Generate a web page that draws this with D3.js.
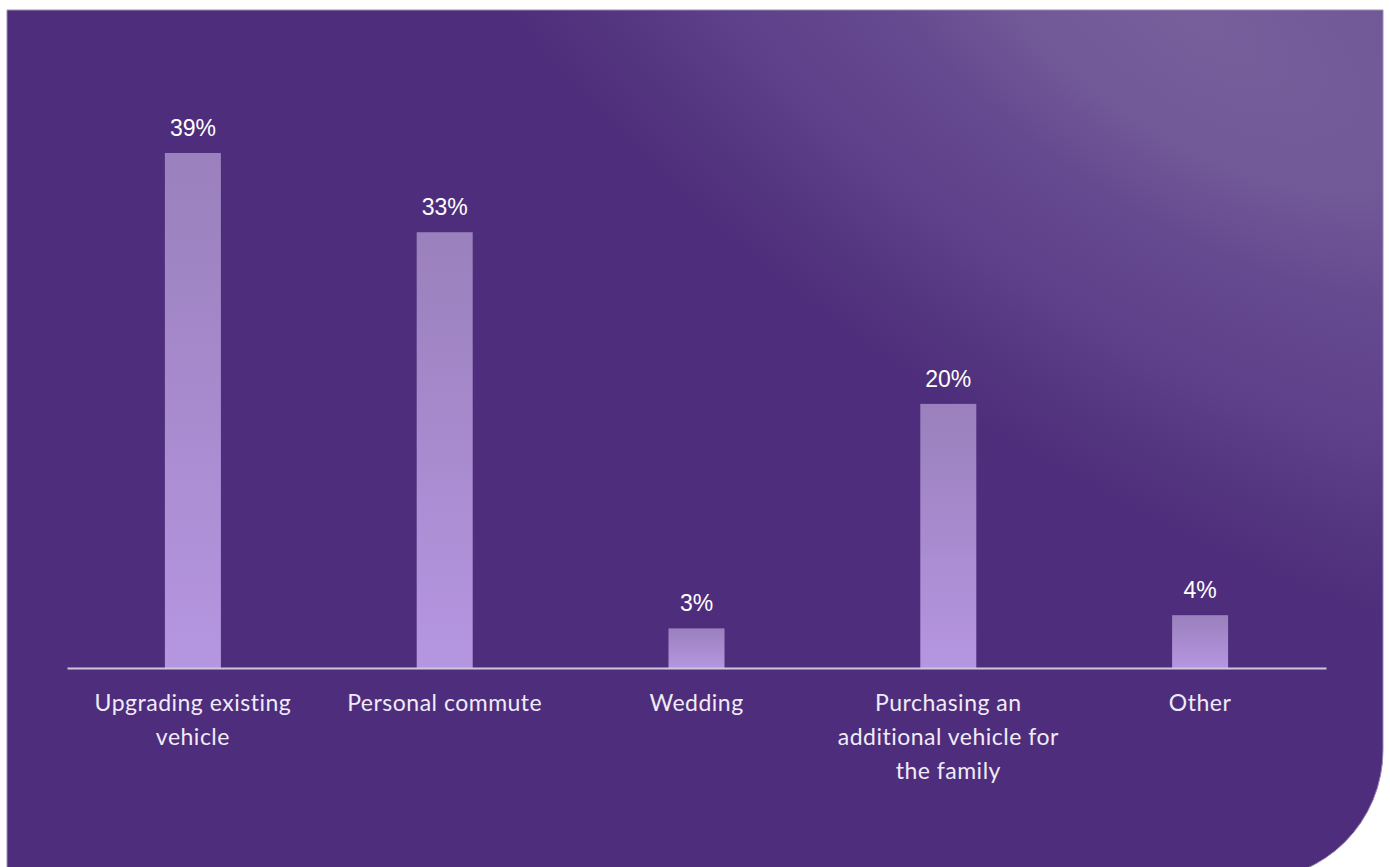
<!DOCTYPE html>
<html>
<head>
<meta charset="utf-8">
<script src="https://cdn.jsdelivr.net/npm/d3@7/dist/d3.min.js"></script>
<style>
  html, body { margin: 0; padding: 0; background: #ffffff; }
  svg { display: block; }
</style>
</head>
<body>
<svg id="chart" width="1390" height="867"></svg>
<script>
// Reasons for vehicle purchase (share of respondents, %)
const categories = [
  ["Upgrading existing", "vehicle"],
  ["Personal commute"],
  ["Wedding"],
  ["Purchasing an", "additional vehicle for", "the family"],
  ["Other"]
];
const values = [39, 33, 3, 20, 4];
const valueLabels = ["39%", "33%", "3%", "20%", "4%"];

const W = 1390, H = 867;
const svg = d3.select("#chart");
const defs = svg.append("defs");

// Panel background: elongated soft glow along the upper-right diagonal
const gcx = 1200, gcy = 20;
const glow = defs.append("radialGradient")
  .attr("id", "glow").attr("gradientUnits", "userSpaceOnUse")
  .attr("cx", gcx).attr("cy", gcy).attr("r", 1000)
  .attr("gradientTransform",
    `translate(${gcx},${gcy}) rotate(33) scale(1,0.46) translate(${-gcx},${-gcy})`);
[
  [0.00, "#775f9c"],
  [0.26, "#715897"],
  [0.43, "#664a90"],
  [0.70, "#5c3f88"],
  [0.87, "#53347f"],
  [1.00, "#4e2e7c"]
].forEach(([o, c]) => glow.append("stop").attr("offset", o).attr("stop-color", c));

const barGrad = defs.append("linearGradient")
  .attr("id", "barGrad").attr("x1", 0).attr("y1", 0).attr("x2", 0).attr("y2", 1);
barGrad.append("stop").attr("offset", "0%").attr("stop-color", "#9a80bc");
barGrad.append("stop").attr("offset", "100%").attr("stop-color", "#b596e1");

// Panel shape: square corners except a large rounded bottom-right corner
const pL = 7, pT = 10, pR = 1383, pB = 880, rad = 130;
const panelPath = `M${pL},${pT} H${pR} V${pB - rad} A${rad},${rad} 0 0 1 ${pR - rad},${pB} H${pL} Z`;
svg.append("path").attr("d", panelPath).attr("fill", "#4e2e7c");
svg.append("path").attr("d", panelPath).attr("fill", "url(#glow)")
  .attr("stroke", "#9c8cb6").attr("stroke-width", 1);

// Scales
const plot = { left: 67, right: 1326, baseline: 668 };
const x = d3.scaleBand()
  .domain(d3.range(values.length))
  .range([plot.left, plot.right])
  .paddingInner(0).paddingOuter(0);
const y = d3.scaleLinear()
  .domain([0, 39])
  .range([plot.baseline, 153]);
const barW = 56;

const g = svg.append("g");

// Bars
g.selectAll("rect.bar")
  .data(values)
  .join("rect")
  .attr("class", "bar")
  .attr("x", (d, i) => x(i) + x.bandwidth() / 2 - barW / 2)
  .attr("y", d => y(d))
  .attr("width", barW)
  .attr("height", d => y(0) - y(d))
  .attr("fill", "url(#barGrad)");

// Value labels above each bar
g.selectAll("text.val")
  .data(values)
  .join("text")
  .attr("class", "val")
  .attr("x", (d, i) => x(i) + x.bandwidth() / 2)
  .attr("y", d => y(d) - 17)
  .attr("text-anchor", "middle")
  .attr("font-family", "Liberation Sans, Arial, sans-serif")
  .attr("font-size", 23)
  .attr("fill", "#ffffff")
  .text((d, i) => valueLabels[i]);

// Baseline axis
const axis = d3.axisBottom(x).tickSize(0).tickFormat("");
const axisG = g.append("g")
  .attr("transform", `translate(0,${plot.baseline})`)
  .call(axis);
axisG.select(".domain").attr("stroke", "#cfc8dc").attr("stroke-width", 2);

// Category labels (wrapped)
const cat = g.selectAll("text.cat")
  .data(categories)
  .join("text")
  .attr("class", "cat")
  .attr("x", (d, i) => x(i) + x.bandwidth() / 2)
  .attr("y", 711)
  .attr("text-anchor", "middle")
  .attr("font-family", "Lato, 'Open Sans', sans-serif")
  .attr("font-size", 23)
  .attr("font-weight", 400)
  .attr("letter-spacing", 0.5)
  .attr("fill", "#f0ebf6");
cat.selectAll("tspan")
  .data((d, i) => d.map(line => ({ line, i })))
  .join("tspan")
  .attr("x", d => x(d.i) + x.bandwidth() / 2)
  .attr("dy", (d, j) => j === 0 ? 0 : 34)
  .text(d => d.line);
</script>
</body>
</html>
